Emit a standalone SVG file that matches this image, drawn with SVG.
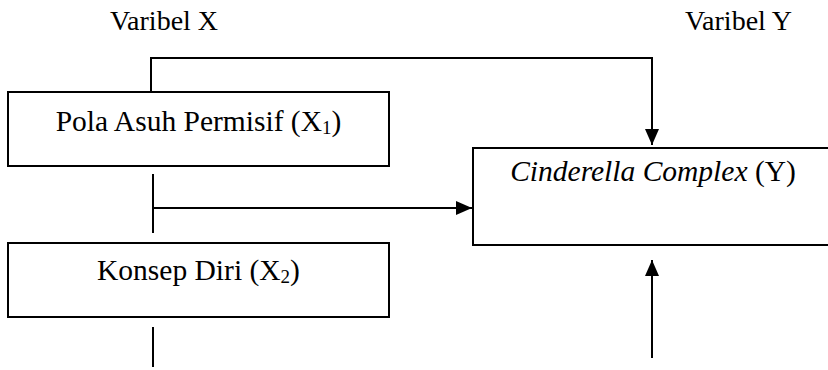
<svg xmlns="http://www.w3.org/2000/svg" width="828" height="370" viewBox="0 0 828 370">
  <style>
    .box { fill: #ffffff; stroke: #000000; stroke-width: 2; }
    .lbl { font-family: "Liberation Serif", "Times New Roman", serif; font-size: 28px; fill: #000000; }
    .inbox { font-size: 29.5px; }
    .mid { text-anchor: middle; }
    .sub { font-size: 19px; }
    .edge { fill: none; stroke: #000000; stroke-width: 2; }
  </style>
  <defs>
    <marker id="head" viewBox="0 0 16 14" refX="16" refY="7" markerWidth="16" markerHeight="14" markerUnits="userSpaceOnUse" orient="auto">
      <path d="M0,0 L16,7 L0,14 Z" fill="#000000"/>
    </marker>
  </defs>

  <!-- column headings -->
  <text class="lbl" x="110" y="30">Varibel X</text>
  <text class="lbl" x="685" y="30">Varibel Y</text>

  <!-- connectors -->
  <g id="connectors">
    <path class="edge" d="M151,91 V58 H652 V145" marker-end="url(#head)"/>
    <path class="edge" d="M153,174 V233"/>
    <path class="edge" d="M153,208 H472" marker-end="url(#head)"/>
    <path class="edge" d="M153,327 V367"/>
    <path class="edge" d="M652,358 V260" marker-end="url(#head)"/>
  </g>

  <g id="node-x1">
    <rect class="box" x="8" y="92" width="381" height="74"/>
    <text class="lbl inbox mid" x="198.5" y="131">Pola Asuh Permisif (X<tspan class="sub" dy="3">1</tspan><tspan dy="-3">)</tspan></text>
  </g>

  <g id="node-x2">
    <rect class="box" x="8" y="243" width="381" height="74"/>
    <text class="lbl inbox mid" x="198.5" y="280">Konsep Diri (X<tspan class="sub" dy="3">2</tspan><tspan dy="-3">)</tspan></text>
  </g>

  <g id="node-y">
    <rect class="box" x="473" y="148" width="362" height="97"/>
    <text class="lbl inbox mid" x="653" y="181"><tspan font-style="italic">Cinderella Complex</tspan> (Y)</text>
  </g>
</svg>
